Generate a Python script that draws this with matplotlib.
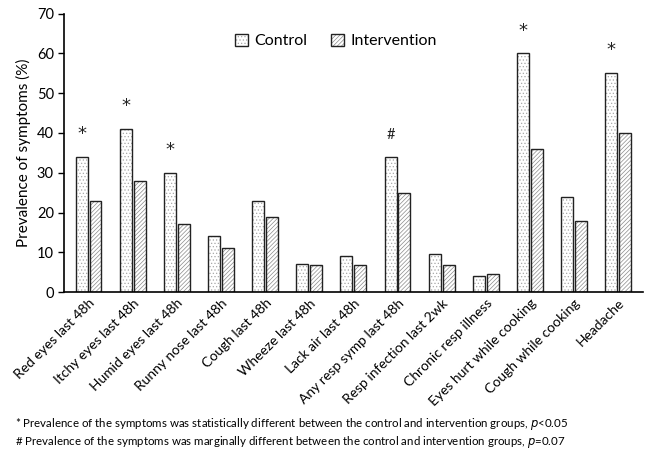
import matplotlib.pyplot as plt
import numpy as np

plt.rcParams['font.family'] = ['Lato', 'DejaVu Sans']
plt.rcParams['hatch.linewidth'] = 0.5

# symptomes
categories = ["Red eyes last 48h", "Itchy eyes last 48h", "Humid eyes last 48h",
              "Runny nose last 48h", "Cough last 48h", "Wheeze last 48h",
              "Lack air last 48h", "Any resp symp last 48h", "Resp infection last 2wk",
              "Chronic resp illness", "Eyes hurt while cooking", "Cough while cooking",
              "Headache"]
control = [34, 41, 30, 14, 23, 7, 9.2, 34, 9.5, 4.1, 60, 24, 55]
intervention = [23, 28, 17, 11, 19, 6.8, 6.7, 25, 6.9, 4.6, 36, 18, 40]
marks = ["*", "*", "*", "", "", "", "", "#", "", "", "*", "", "*"]

fig = plt.figure(figsize=(6.49, 4.55), dpi=100)
ax = fig.add_axes([0.099, 0.358, 0.891, 0.612])

x = np.arange(len(categories))
w = 0.27
# hachures grises, puis contour noir par dessus
h1 = ax.bar(x - 0.157, control, w, color='white', edgecolor='#a8a8a8', linewidth=0,
            hatch='.....')
h2 = ax.bar(x + 0.157, intervention, w, color='white', edgecolor='#8a8a8a', linewidth=0,
            hatch='////////')
o1 = ax.bar(x - 0.157, control, w, fill=False, edgecolor='#222222', linewidth=1.0)
o2 = ax.bar(x + 0.157, intervention, w, fill=False, edgecolor='#222222', linewidth=1.0)

for i in range(len(categories)):
    if marks[i] == "*":
        ax.text(x[i] - 0.157, control[i] + 3.5, marks[i], ha='center', va='bottom',
                fontsize=13, color='#222222', family='DejaVu Sans')
    elif marks[i] == "#":
        ax.text(x[i] - 0.157, control[i] + 3.8, marks[i], ha='center', va='bottom',
                fontsize=10.5, color='#222222')

ax.set_xlim(-0.55, 12.55)
ax.set_ylim(0, 70)
ax.set_yticks(range(0, 71, 10))
ax.tick_params(axis='y', labelsize=10.5, length=4, direction='out', width=1)
ax.tick_params(axis='x', length=0, labelsize=10)
ax.set_xticks(x)
ax.set_xticklabels(categories, rotation=45, ha='right', rotation_mode='anchor')
ax.set_ylabel("Prevalence of symptoms (%)", fontsize=11)
ax.spines['top'].set_visible(False)
ax.spines['right'].set_visible(False)
ax.spines['left'].set_linewidth(1.2)
ax.spines['bottom'].set_linewidth(1.2)

ax.legend([(h1[0], o1[0]), (h2[0], o2[0])], ['Control', 'Intervention'],
          loc='upper center', bbox_to_anchor=(0.47, 0.98), ncol=2, frameon=False,
          fontsize=11.5, handlelength=0.8, handleheight=0.8, columnspacing=1.5,
          handletextpad=0.4)

fig.text(0.023, 0.062, "* Prevalence of the symptoms was statistically different between the control and intervention groups, $p$<0.05",
         fontsize=8.3)
fig.text(0.023, 0.022, "# Prevalence of the symptoms was marginally different between the control and intervention groups, $p$=0.07",
         fontsize=8.3)

plt.savefig('out.png', dpi=100)
